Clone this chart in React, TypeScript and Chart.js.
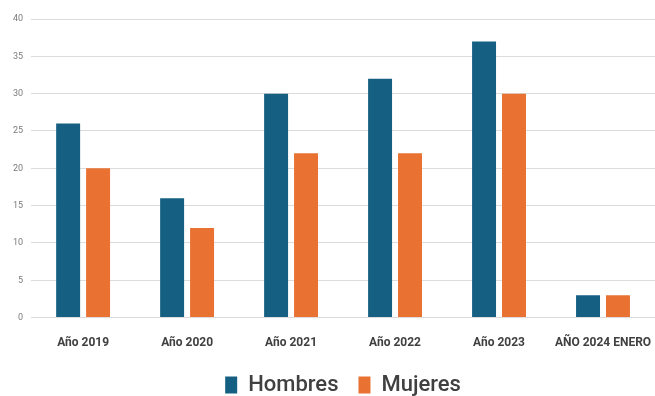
import React, { useEffect, useRef } from "react";
import { Chart, registerables } from "chart.js";

Chart.register(...registerables);

const categories = ["Año 2019", "Año 2020", "Año 2021", "Año 2022", "Año 2023", "AÑO 2024 ENERO"];
const hombres = [26, 16, 30, 32, 37, 3];
const mujeres = [20, 12, 22, 22, 30, 3];

const BLUE = "#156082";
const ORANGE = "#E97132";
const FONT = "Roboto, 'Liberation Sans', sans-serif";

// Keeps the wide horizontal spacing between legend items while trimming the
// vertical room the legend reserves.
const compactLegend = {
  id: "compactLegend",
  beforeInit(chart: any) {
    const legend = chart.legend;
    if (!legend) return;
    const fit = legend.fit;
    legend.fit = function () {
      fit.call(this);
      this.height -= 10;
    };
  },
};

export default function App() {
  const canvasRef = useRef<HTMLCanvasElement | null>(null);

  useEffect(() => {
    if (!canvasRef.current) return;
    const chart = new Chart(canvasRef.current, {
      type: "bar",
      data: {
        labels: categories,
        datasets: [
          { label: "Hombres", data: hombres, backgroundColor: BLUE },
          { label: "Mujeres", data: mujeres, backgroundColor: ORANGE },
        ],
      },
      plugins: [compactLegend],
      options: {
        animation: false,
        responsive: false,
        maintainAspectRatio: false,
        layout: { padding: { left: 5, right: 0, top: 19, bottom: 0 } },
        datasets: {
          bar: { categoryPercentage: 0.576, barPercentage: 0.8 },
        },
        scales: {
          x: {
            grid: { display: false },
            border: { display: false },
            afterFit(scale: any) {
              // plot runs to the right edge; the long last label may overflow
              scale.height -= 6;
              scale.paddingLeft = 0;
              scale.paddingRight = 0;
            },
            ticks: {
              autoSkip: false,
              maxRotation: 0,
              minRotation: 0,
              padding: 10,
              color: "#404040",
              font: { family: FONT, size: 12, weight: "bold" },
            },
          },
          y: {
            min: 0,
            max: 40,
            grid: { color: "#dcdcdc", lineWidth: 1, drawTicks: false },
            border: { display: false },
            ticks: {
              stepSize: 5,
              padding: 8,
              color: "#7a7a7a",
              font: { family: FONT, size: 9 },
            },
          },
        },
        plugins: {
          tooltip: { enabled: false },
          legend: {
            position: "bottom",
            fullSize: false,
            labels: {
              boxWidth: 12,
              boxHeight: 17,
              padding: 20,
              color: "#404040",
              font: { family: FONT, size: 22, weight: "500" },
            },
          },
        },
      },
    });
    return () => chart.destroy();
  }, []);

  return (
    <div style={{ position: "fixed", left: 0, top: 0, width: 655, height: 396, background: "#fff" }}>
      <canvas ref={canvasRef} width={655} height={396} />
    </div>
  );
}
